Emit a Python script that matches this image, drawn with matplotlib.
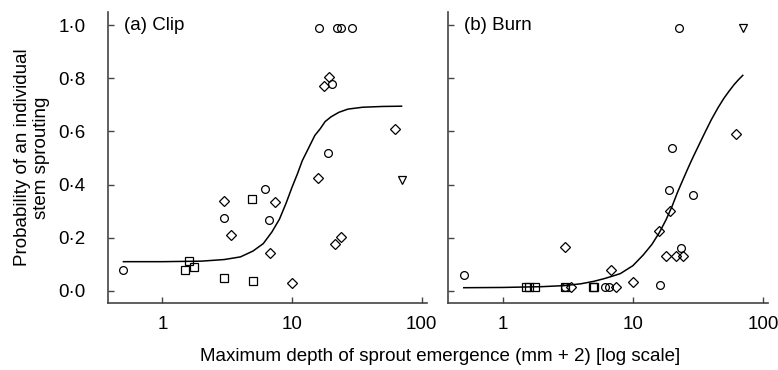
import numpy as np
import matplotlib
matplotlib.use("Agg")
import matplotlib.pyplot as plt

plt.rcParams['font.family'] = ['Liberation Sans', 'DejaVu Sans']
plt.rcParams['font.size'] = 13.5

# (a) Clip
clip_circle_x = [0.5, 2.97, 6.2, 6.66, 16.1, 19.0, 20.2, 22.3, 23.7, 29.1]
clip_circle_y = [0.078, 0.274, 0.383, 0.266, 0.99, 0.519, 0.779, 0.99, 0.99, 0.99]
clip_diamond_x = [2.99, 3.39, 6.74, 7.36, 9.96, 15.9, 17.8, 19.2, 21.4, 23.8, 62.5]
clip_diamond_y = [0.338, 0.212, 0.143, 0.334, 0.030, 0.425, 0.770, 0.804, 0.178, 0.202, 0.610]
clip_square_x = [1.5, 1.6, 1.75, 2.99, 4.95, 4.98]
clip_square_y = [0.078, 0.112, 0.090, 0.047, 0.345, 0.038]
clip_tri_x = [70]
clip_tri_y = [0.419]
clip_curve_x = [0.5, 1, 2, 3, 4, 5, 6, 7, 8, 9, 10, 11, 12, 13.5, 15, 16.5, 18, 20, 23, 27, 35, 50, 70]
clip_curve_y = [0.110, 0.110, 0.112, 0.118, 0.128, 0.150, 0.178, 0.222, 0.270, 0.330, 0.390,
                0.440, 0.490, 0.540, 0.585, 0.610, 0.637, 0.655, 0.672, 0.684, 0.691, 0.694, 0.695]

# (b) Burn
burn_circle_x = [0.5, 3.0, 6.15, 6.6, 16.1, 18.9, 19.95, 22.5, 23.6, 29.0]
burn_circle_y = [0.059, 0.013, 0.013, 0.013, 0.024, 0.378, 0.536, 0.99, 0.161, 0.361]
burn_diamond_x = [3.0, 3.36, 6.8, 7.4, 10.0, 15.95, 18.1, 19.15, 21.4, 24.1, 62.6]
burn_diamond_y = [0.164, 0.013, 0.080, 0.013, 0.035, 0.226, 0.131, 0.301, 0.131, 0.131, 0.590]
burn_square_x = [1.5, 1.6, 1.75, 2.99, 4.95, 4.98]
burn_square_y = [0.013, 0.013, 0.013, 0.013, 0.013, 0.013]
burn_tri_x = [70]
burn_tri_y = [0.99]
burn_curve_x = [0.5, 1, 2, 3, 4, 5, 6, 7, 8, 10, 12, 14, 16, 18, 20, 22, 24, 26, 28, 30,
                33, 36, 40, 45, 50, 55, 60, 65, 70]
burn_curve_y = [0.012, 0.013, 0.016, 0.020, 0.027, 0.036, 0.046, 0.056, 0.065, 0.095, 0.135,
                0.175, 0.220, 0.268, 0.318, 0.370, 0.413, 0.452, 0.487, 0.518,
                0.560, 0.598, 0.643, 0.688, 0.724, 0.752, 0.776, 0.795, 0.811]

yticks = [0.0, 0.2, 0.4, 0.6, 0.8, 1.0]
ytick_labels = ['0·0', '0·2', '0·4', '0·6', '0·8', '1·0']
xticks = [1, 10, 100]
xtick_labels = ['1', '10', '100']

fig = plt.figure(figsize=(7.78, 3.70), dpi=100)
ax1 = fig.add_axes([0.1388, 0.180, 0.410, 0.788])
ax2 = fig.add_axes([0.5762, 0.180, 0.4113, 0.788])

spine_col = '#444444'
mk = dict(linestyle='none', markerfacecolor='none', markeredgecolor='black', markeredgewidth=0.9)

panels = [
    (ax1, '(a) Clip', clip_circle_x, clip_circle_y, clip_diamond_x, clip_diamond_y,
     clip_square_x, clip_square_y, clip_tri_x, clip_tri_y, clip_curve_x, clip_curve_y),
    (ax2, '(b) Burn', burn_circle_x, burn_circle_y, burn_diamond_x, burn_diamond_y,
     burn_square_x, burn_square_y, burn_tri_x, burn_tri_y, burn_curve_x, burn_curve_y),
]

for ax, title, cx, cy, dx, dy, sx, sy, tx, ty, lx, ly in panels:
    ax.plot(lx, ly, color='black', lw=1.1)
    ax.plot(cx, cy, marker='o', ms=5.6, **mk)
    ax.plot(dx, dy, marker='D', ms=4.8, **mk)
    ax.plot(sx, sy, marker='s', ms=5.2, **mk)
    ax.plot(tx, ty, marker='v', ms=6, **mk)
    ax.set_xscale('log')
    ax.set_xlim(0.38, 110)
    ax.set_ylim(-0.047, 1.05)
    ax.set_xticks(xticks)
    ax.set_xticklabels(xtick_labels)
    ax.minorticks_off()
    ax.set_yticks(yticks)
    ax.spines['top'].set_visible(False)
    ax.spines['right'].set_visible(False)
    for s in ['left', 'bottom']:
        ax.spines[s].set_color(spine_col)
        ax.spines[s].set_linewidth(1.2)
    ax.tick_params(direction='in', length=4, width=1, color=spine_col, pad=9)
    ax.text(0.05, 1.0, title, fontsize=13.5, va='center', ha='left',
            transform=ax.get_yaxis_transform())

ax1.set_yticklabels(ytick_labels)
ax1.tick_params(axis='y', pad=16)
ax2.set_yticklabels([])

ax1.set_ylabel('Probability of an individual\nstem sprouting', labelpad=6)
fig.text(0.566, 0.037, 'Maximum depth of sprout emergence (mm + 2) [log scale]',
         ha='center', va='center', fontsize=13.5)

fig.savefig('out.png', dpi=100)
